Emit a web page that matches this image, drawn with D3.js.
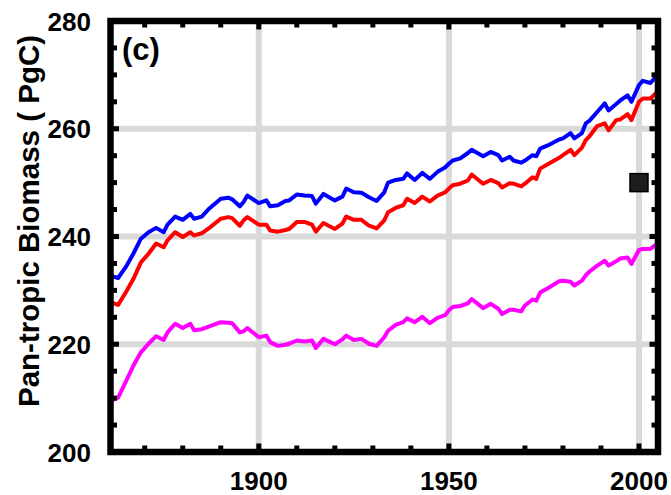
<!DOCTYPE html>
<html>
<head>
<meta charset="utf-8">
<script src="https://cdn.jsdelivr.net/npm/d3@7"></script>
<style>
  html, body { margin: 0; padding: 0; background: #fff; }
  svg { display: block; font-family: "Liberation Sans", Arial, Helvetica, sans-serif; }
</style>
</head>
<body>
<svg id="chart" width="671" height="495"></svg>
<script>
// Pan-tropic vegetation biomass (PgC), 1861-2005
const years = [
  1861,1863,1865,1867,1869,1871,1873,1875,1876,1878,
  1880,1882,1883,1885,1887,1890,1892,1893,1895,1896,
  1897,1900,1902,1903,1905,1907,1908,1910,1912,1914,
  1915,1917,1920,1922,1923,1925,1927,1929,1931,1933,
  1934,1936,1938,1939,1941,1943,1945,1947,1949,1950,
  1951,1953,1955,1956,1959,1961,1963,1964,1966,1967,
  1969,1970,1972,1973,1974,1976,1979,1980,1982,1983,
  1985,1986,1987,1989,1991,1992,1994,1995,1997,1998,
  2000,2001,2003,2005
];

const blueSeries = [
  232.7,232.3,234.3,236.8,239.6,240.8,241.6,240.8,242.2,243.7,
  243.1,244.2,243.3,243.7,245.2,247.0,247.2,246.9,245.6,246.4,
  247.6,246.2,246.7,245.6,245.8,246.6,246.7,247.8,247.6,247.5,
  246.1,247.9,246.7,247.4,248.9,248.2,248.1,247.3,246.6,248.2,
  250.0,250.5,250.7,251.7,250.5,251.8,250.7,252.0,252.8,253.5,
  254.1,254.5,255.5,256.1,254.9,255.7,255.1,254.1,254.8,254.1,
  253.7,254.1,255.1,254.9,256.3,256.9,258.0,258.2,259.2,258.2,
  259.2,261.0,261.5,263.1,264.7,263.4,264.6,265.2,266.2,265.0,
  268.1,268.9,268.5,270.0
];

const redSeries = [
  227.8,227.3,229.6,232.1,235.2,236.8,238.7,238.0,239.3,240.8,
  239.9,240.8,240.2,240.6,241.6,243.3,243.6,243.4,242.0,243.0,
  243.6,242.2,242.2,241.1,240.9,241.2,241.4,242.7,242.7,242.2,
  240.9,242.5,241.4,242.4,243.7,243.1,243.1,242.0,241.5,243.0,
  244.5,245.3,245.8,247.0,246.2,247.4,246.5,247.6,248.2,248.9,
  249.5,249.8,250.4,251.5,249.8,250.5,249.9,249.1,249.9,249.8,
  249.3,249.8,251.0,250.7,252.6,253.4,254.6,255.1,256.1,255.1,
  256.5,257.9,258.6,260.5,261.0,259.7,261.6,261.7,262.7,261.6,
  265.0,265.6,265.6,267.0
];

const magentaSeries = [
  209.5,210.1,213.0,216.0,218.5,220.1,221.5,220.8,222.2,223.8,
  223.0,223.8,222.6,222.8,223.3,224.1,224.0,223.9,222.2,222.4,
  223.0,221.3,221.6,220.4,219.7,219.9,220.1,220.7,220.5,220.7,
  219.3,221.0,220.0,220.9,221.6,220.8,221.0,220.1,219.7,221.3,
  222.5,223.6,224.1,224.8,224.1,225.1,223.9,224.9,225.4,226.3,
  226.9,227.1,227.6,228.4,226.7,227.5,226.6,225.6,226.4,226.4,
  226.1,227.2,228.3,228.1,229.6,230.4,231.7,231.8,231.6,230.9,
  231.8,232.8,233.5,234.6,235.5,234.6,235.4,235.9,236.1,234.9,
  237.5,237.7,237.7,238.8
];

// Single observation-based estimate
const obsYear = [2000];
const obsValue = [250];

const xTicks = [1900, 1950, 2000];
const xMinorTicks = d3.range(1870, 2005, 10);
const yTicks = [200, 220, 240, 260, 280];
const yMinorTicks = d3.range(205, 280, 5);

const seriesList = [
  { name: "blue", values: blueSeries, color: "#0000ff" },
  { name: "red", values: redSeries, color: "#ff0000" },
  { name: "magenta", values: magentaSeries, color: "#ff00ff" }
];

const plotLeft = 110.5, plotRight = 658, plotTop = 21, plotBottom = 452;

const x = d3.scaleLinear().domain([1861, 2005]).range([plotLeft, plotRight]);
const y = d3.scaleLinear().domain([200, 280]).range([plotBottom, plotTop]);

const svg = d3.select("#chart");

// grid
const gridColor = "#d9d9d9";
const grid = svg.append("g");
grid.selectAll(".gx").data(xTicks).join("line")
  .attr("x1", d => x(d)).attr("x2", d => x(d))
  .attr("y1", plotTop).attr("y2", plotBottom)
  .attr("stroke", gridColor).attr("stroke-width", 6);
grid.selectAll(".gy").data(yTicks.filter(d => d > 200 && d < 280)).join("line")
  .attr("x1", plotLeft).attr("x2", plotRight)
  .attr("y1", d => y(d)).attr("y2", d => y(d))
  .attr("stroke", gridColor).attr("stroke-width", 6);

// series lines
const line = d3.line().x((d, i) => x(years[i])).y(d => y(d));
svg.append("defs").append("clipPath").attr("id", "plotClip")
  .append("rect").attr("x", plotLeft).attr("y", plotTop)
  .attr("width", plotRight - plotLeft).attr("height", plotBottom - plotTop);

const plot = svg.append("g").attr("clip-path", "url(#plotClip)");
plot.selectAll(".series").data(seriesList).join("path")
  .attr("d", s => line(s.values))
  .attr("fill", "none")
  .attr("stroke", s => s.color)
  .attr("stroke-width", 4)
  .attr("stroke-linejoin", "round")
  .attr("stroke-linecap", "round");

// observation marker
svg.selectAll(".obs").data(obsYear).join("rect")
  .attr("x", d => x(d) - 9)
  .attr("y", (d, i) => y(obsValue[i]) - 9)
  .attr("width", 18).attr("height", 18)
  .attr("fill", "#1e1e1e")
  .attr("stroke", "#000").attr("stroke-width", 1.5);

// frame with inward ticks on all four sides
const axes = svg.append("g");
const tickW = 5;
function ticksX(vals, len) {
  [[plotBottom, -1], [plotTop, 1]].forEach(([yy, dir]) => {
    axes.selectAll(null).data(vals).join("line")
      .attr("x1", d => x(d)).attr("x2", d => x(d))
      .attr("y1", yy).attr("y2", yy + dir * len)
      .attr("stroke", "#000").attr("stroke-width", tickW);
  });
}
function ticksY(vals, len) {
  [[plotLeft, 1], [plotRight, -1]].forEach(([xx, dir]) => {
    axes.selectAll(null).data(vals).join("line")
      .attr("y1", d => y(d)).attr("y2", d => y(d))
      .attr("x1", xx).attr("x2", xx + dir * len)
      .attr("stroke", "#000").attr("stroke-width", tickW);
  });
}
ticksX(xMinorTicks.filter(d => !xTicks.includes(d)), 6.5);
ticksX(xTicks, 8.5);
ticksY(yMinorTicks.filter(d => !yTicks.includes(d)), 6.5);
ticksY(yTicks, 8.5);

axes.append("rect")
  .attr("x", plotLeft).attr("y", plotTop)
  .attr("width", plotRight - plotLeft).attr("height", plotBottom - plotTop)
  .attr("fill", "none").attr("stroke", "#000").attr("stroke-width", 6.5);

// tick labels
svg.selectAll(".xl").data(xTicks).join("text")
  .attr("x", d => x(d)).attr("y", 490)
  .attr("text-anchor", "middle")
  .attr("font-size", 26).attr("font-weight", "bold")
  .text(d => d);

svg.selectAll(".yl").data(yTicks).join("text")
  .attr("x", 91).attr("y", d => y(d) + 9.5)
  .attr("text-anchor", "end")
  .attr("font-size", 26).attr("font-weight", "bold")
  .text(d => d);

// axis title
svg.append("text")
  .attr("transform", "translate(39,221) rotate(-90)")
  .attr("text-anchor", "middle")
  .attr("font-size", 29.5).attr("font-weight", "bold")
  .text("Pan-tropic Biomass ( PgC)");

// panel letter
svg.append("text")
  .attr("x", 122).attr("y", 60)
  .attr("font-size", 31).attr("font-weight", "bold")
  .text("(c)");
</script>
</body>
</html>
